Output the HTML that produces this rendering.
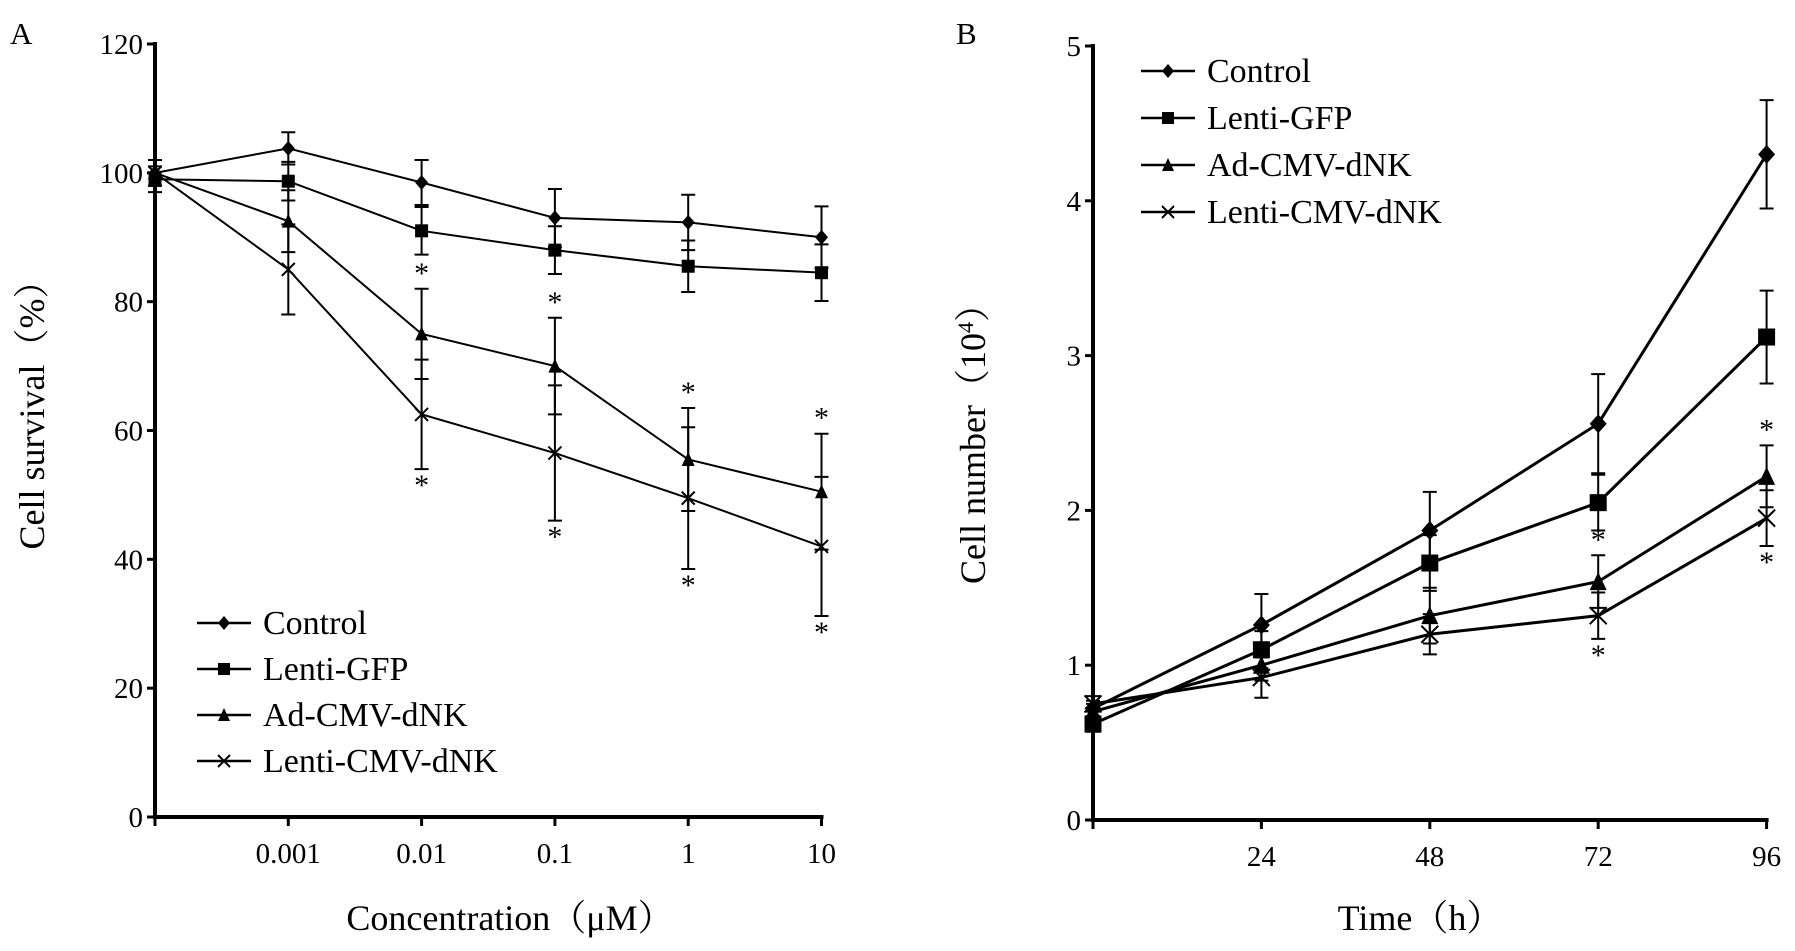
<!DOCTYPE html>
<html><head><meta charset="utf-8"><style>
body{margin:0;background:#fff}
svg{display:block;font-family:"Liberation Serif","Noto Serif CJK SC",serif}
</style></head><body>
<svg id="chart" width="1795" height="951" viewBox="0 0 1795 951" xmlns="http://www.w3.org/2000/svg">
<text x="10" y="44" font-size="31">A</text>
<text x="956" y="44" font-size="31">B</text>
</svg>
<script>
const seriesNames = ["Control","Lenti-GFP","Ad-CMV-dNK","Lenti-CMV-dNK"];
const markers = ["diamond","square","triangle","cross"];
// Panel A
const catsA = ["","0.001","0.01","0.1","1","10"];
const ticksA = [0,20,40,60,80,100,120];
const valsA = [
  [100,103.8,98.5,93,92.3,90],
  [99,98.7,91,88,85.5,84.5],
  [100,92.5,75,70,55.5,50.5],
  [100,85,62.5,56.5,49.5,42]];
const errA = [
  [2,2.5,3.5,4.5,4.3,4.8],
  [2,3,3.7,3.7,4,4.4],
  [2,4.8,7,7.5,8,9],
  [2,7,8.5,10.5,11,10.8]];
const starsA = [[2,2,1],[2,3,1],[2,4,1],[2,5,1],[3,2,-1],[3,3,-1],[3,4,-1],[3,5,-1]];
// Panel B
const catsB = ["","24","48","72","96"];
const ticksB = [0,1,2,3,4,5];
const valsB = [
  [0.72,1.26,1.87,2.56,4.3],
  [0.62,1.1,1.66,2.05,3.12],
  [0.7,1.0,1.32,1.54,2.22],
  [0.75,0.92,1.2,1.32,1.95]];
const errB = [
  [0.05,0.2,0.25,0.32,0.35],
  [0.05,0.12,0.18,0.18,0.3],
  [0.05,0.1,0.18,0.17,0.2],
  [0.05,0.13,0.13,0.15,0.18]];
const starsB = [[2,3,1],[2,4,1],[3,3,-1],[3,4,-1]];

const svg = document.getElementById('chart');
const NS = "http://www.w3.org/2000/svg";
function mk(tag, attrs, parent){const e=document.createElementNS(NS,tag);for(const k in attrs)e.setAttribute(k,attrs[k]);(parent||svg).appendChild(e);return e;}

function panel(p){
  const g = mk('g',{});
  
  
  const ys = v => p.y0 - (v - p.ymin)/(p.ymax-p.ymin)*(p.y0-p.y1);
  const xs = i => p.x0 + i*p.dx;
  const ax = mk('path',{d:`M${p.x0} ${p.y1-2}V${p.y0}H${xs(p.cats.length-1)+2}`,stroke:'#000','stroke-width':4,fill:'none'},g);
  
  
  p.ticks.forEach(t=>{
    mk('line',{x1:p.x0-8,x2:p.x0,y1:ys(t),y2:ys(t),stroke:'#000','stroke-width':3},g);
    const tx = mk('text',{x:p.x0-12,y:ys(t)+10,'text-anchor':'end','font-size':29},g);
    tx.textContent=t;
    
    
  });
  p.cats.forEach((c,i)=>{
    mk('line',{x1:xs(i),x2:xs(i),y1:p.y0,y2:p.y0+9,stroke:'#000','stroke-width':3},g);
    if(c){const tx=mk('text',{x:xs(i),y:p.y0+46,'text-anchor':'middle','font-size':29},g);tx.textContent=c;
    
    }
  });
  const xt = mk('text',{x:p.xtx,y:930,'text-anchor':'middle','font-size':36},g);
  xt.textContent=p.xtitle;
  
  
  const yt = mk('text',{transform:`translate(${p.ytx},${p.yty}) rotate(-90)`,'text-anchor':'middle','font-size':36},g);
  yt.innerHTML=p.ytitle;
  
  
  p.vals.forEach((s,si)=>{
    const sg = mk('g',{},g);
    
    
    mk('polyline',{points:s.map((v,i)=>xs(i)+','+ys(v)).join(' '),fill:'none',stroke:'#000','stroke-width':p.lw},sg);
    s.forEach((v,i)=>{
      const e=p.err[si][i];
      mk('path',{d:`M${xs(i)} ${ys(v+e)}V${ys(v-e)}M${xs(i)-7} ${ys(v+e)}h14M${xs(i)-7} ${ys(v-e)}h14`,stroke:'#000','stroke-width':2,fill:'none'},sg);
      const m = marker(markers[si], xs(i), ys(v), p.ms, sg);
      
      
    });
  });
  p.stars.forEach(([si,i,dir])=>{
    const v=p.vals[si][i], e=p.err[si][i];
    const y = dir>0 ? ys(v+e)-6 : ys(v-e)+26;
    const st=mk('text',{x:xs(i),y:y,'text-anchor':'middle','font-size':30},g);
    st.textContent='*';
    
    
  });
  seriesNames.forEach((n,si)=>{
    const lg = mk('g',{},g);
    
    
    const ly = p.ly + si*p.lstep;
    mk('line',{x1:p.lx,x2:p.lx+54,y1:ly,y2:ly,stroke:'#000','stroke-width':2.5},lg);
    marker(markers[si], p.lx+27, ly, 12, lg);
    const t=mk('text',{x:p.lx+66,y:ly+11,'font-size':34},lg);
    t.textContent=n;
  });
}
function marker(type,x,y,s,parent){
  const h=s/2;
  if(type==='diamond') return mk('path',{d:`M${x} ${y-h-1}L${x+h} ${y}L${x} ${y+h+1}L${x-h} ${y}Z`,fill:'#000'},parent);
  if(type==='square') return mk('rect',{x:x-h,y:y-h,width:s,height:s,fill:'#000'},parent);
  if(type==='triangle') return mk('path',{d:`M${x} ${y-h-1}L${x+h} ${y+h}L${x-h} ${y+h}Z`,fill:'#000'},parent);
  return mk('path',{d:`M${x-h} ${y-h}L${x+h} ${y+h}M${x-h} ${y+h}L${x+h} ${y-h}`,stroke:'#000','stroke-width':2,fill:'none'},parent);
}
panel({id:'panel-a',x0:155,dx:133.3,y0:817,y1:44,ymin:0,ymax:120,cats:catsA,ticks:ticksA,vals:valsA,err:errA,stars:starsA,
  lw:2,ms:13,xtitle:'Concentration（μM）',xtx:510,ytx:44,yty:406,ytitle:'Cell survival（%）',lx:197,ly:623,lstep:46});
panel({id:'panel-b',x0:1093,dx:168.4,y0:820,y1:46,ymin:0,ymax:5,cats:catsB,ticks:ticksB,vals:valsB,err:errB,stars:starsB,
  lw:3,ms:17,xtitle:'Time（h）',xtx:1420,ytx:985,yty:435,ytitle:'Cell number（10<tspan baseline-shift="super" font-size="22">4</tspan>）',lx:1141,ly:71,lstep:47});
</script>
</body></html>
